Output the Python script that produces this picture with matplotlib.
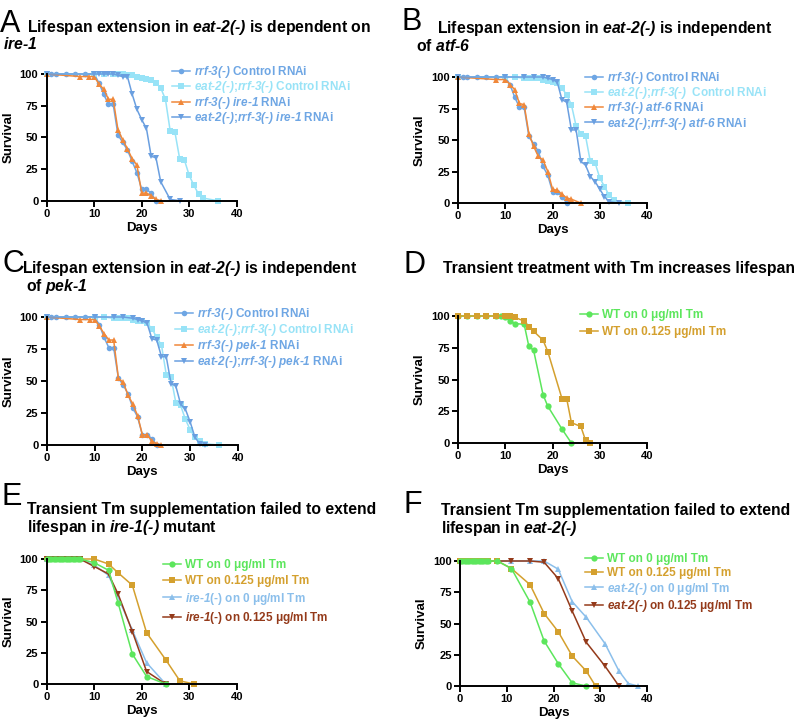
import matplotlib
matplotlib.use("Agg")
import matplotlib.pyplot as plt

plt.rcParams['font.family'] = ['Liberation Sans', 'DejaVu Sans']
plt.rcParams['font.weight'] = 'bold'
plt.rcParams['mathtext.fontset'] = 'custom'
# every glyph inside $...$ is bold italic (gene names)
plt.rcParams['mathtext.it'] = 'Liberation Sans:italic:bold'
plt.rcParams['mathtext.rm'] = 'Liberation Sans:italic:bold'
plt.rcParams['mathtext.bf'] = 'Liberation Sans:italic:bold'

# ---- data (days, % survival) ----
# A: ire-1
a_rrf3_ctrl_x = [0, 1, 2, 4, 6, 8, 10, 11, 12, 13, 14, 15, 16, 17, 18, 19, 20, 21, 22, 23]
a_rrf3_ctrl_y = [100, 100, 100, 100, 100, 100, 100, 93, 84, 76, 76, 52, 46, 40, 31, 22, 9, 9, 6, 0]
a_eat2_ctrl_x = [0, 10, 12, 14, 15, 16, 17, 18, 19, 20, 21, 22, 23, 24, 25, 26, 27, 28, 29, 30, 31, 32, 33, 36]
a_eat2_ctrl_y = [100, 100, 100, 100, 100, 100, 99, 99, 98, 97, 96, 95, 93, 89, 80, 55, 54, 33, 32, 20, 12, 5, 2, 0]
a_rrf3_ire1_x = [0, 7, 9, 10, 11, 12, 13, 14, 15, 16, 17, 18, 19, 20, 21, 22, 23, 24]
a_rrf3_ire1_y = [100, 98, 98, 98, 92, 88, 80, 80, 56, 48, 41, 33, 28, 6, 6, 4, 1, 0]
a_eat2_ire1_x = [0, 10, 11, 12, 13, 14, 15, 16, 17, 18, 19, 20, 21, 22, 23, 24, 26, 28]
a_eat2_ire1_y = [100, 100, 100, 100, 100, 100, 99, 98, 98, 84, 72, 64, 57, 35, 34, 15, 1, 0]

# B: atf-6
b_rrf3_ctrl_x = [0, 1, 2, 4, 6, 8, 10, 11, 12, 13, 14, 15, 16, 17, 18, 19, 20, 21, 22, 23]
b_rrf3_ctrl_y = [100, 100, 100, 100, 100, 100, 100, 94, 84, 76, 76, 53, 47, 41, 29, 22, 9, 9, 5, 0]
b_eat2_ctrl_x = [0, 10, 12, 14, 15, 16, 17, 18, 19, 20, 21, 22, 23, 24, 25, 26, 27, 28, 29, 30, 31, 32, 33, 36]
b_eat2_ctrl_y = [100, 100, 100, 99, 99, 99, 99, 98, 97, 96, 95, 91, 86, 78, 61, 55, 53, 33, 32, 20, 13, 6, 2, 0]
b_rrf3_atf6_x = [0, 8, 10, 11, 12, 13, 14, 15, 16, 17, 18, 19, 20, 21, 22, 23, 24, 26]
b_rrf3_atf6_y = [100, 98, 98, 94, 90, 79, 78, 55, 45, 37, 34, 25, 11, 10, 7, 4, 3, 0]
b_eat2_atf6_x = [0, 10, 14, 16, 18, 19, 20, 21, 22, 23, 24, 25, 26, 27, 28, 29, 30, 31, 32, 34]
b_eat2_atf6_y = [100, 100, 100, 100, 100, 99, 98, 96, 82, 80, 58, 58, 33, 30, 21, 17, 11, 5, 1, 0]

# C: pek-1
c_rrf3_ctrl_x = [0, 1, 2, 4, 6, 8, 10, 11, 12, 13, 14, 15, 16, 17, 18, 19, 20, 21, 22, 23]
c_rrf3_ctrl_y = [100, 100, 100, 100, 100, 100, 100, 94, 84, 76, 76, 52, 47, 40, 29, 22, 8, 8, 5, 0]
c_eat2_ctrl_x = [0, 10, 12, 14, 15, 16, 17, 18, 19, 20, 21, 22, 23, 24, 25, 26, 27, 28, 29, 30, 31, 32, 33, 36]
c_eat2_ctrl_y = [100, 100, 100, 99, 99, 99, 99, 98, 97, 97, 95, 91, 84, 78, 55, 53, 33, 31, 20, 12, 6, 3, 1, 0]
c_rrf3_pek1_x = [0, 7, 9, 10, 11, 12, 13, 14, 15, 16, 17, 18, 19, 20, 21, 22, 23, 24]
c_rrf3_pek1_y = [100, 98, 98, 98, 93, 87, 82, 82, 52, 49, 39, 32, 23, 8, 8, 3, 1, 0]
c_eat2_pek1_x = [0, 10, 14, 16, 18, 19, 20, 21, 22, 23, 24, 25, 26, 27, 28, 29, 30, 31, 32, 33]
c_eat2_pek1_y = [100, 100, 100, 100, 99, 98, 97, 95, 83, 82, 69, 69, 48, 46, 32, 28, 18, 6, 1, 0]

# D: transient Tm, WT
d_wt0_x = [0, 2, 4, 6, 8, 9, 10, 11, 12, 14, 15, 16, 18, 19, 22, 24]
d_wt0_y = [100, 100, 100, 100, 100, 100, 99, 96, 94, 93.5, 76, 73, 38, 29, 11, 0]
d_wt125_x = [0, 2, 4, 6, 8, 10, 11, 12, 14, 15, 16, 18, 19, 22, 23, 24, 26, 27, 28]
d_wt125_y = [100, 100, 100, 100, 100, 100, 100, 99, 96, 91, 88, 81, 72, 35, 35, 16, 13, 2, 0]

# E: ire-1(-)
e_wt0_x = [0, 0.5, 1, 1.5, 2, 2.5, 3, 3.5, 4, 4.5, 5, 5.5, 6, 6.5, 7, 10, 13, 15, 18, 21, 25]
e_wt0_y = [100, 100, 100, 100, 100, 100, 100, 100, 100, 100, 100, 100, 100, 100, 100, 97, 91, 65, 24, 6, 0]
e_wt125_x = [0, 1, 2, 3, 4, 5, 6, 7, 10, 13, 15, 18, 21, 25, 28, 31]
e_wt125_y = [100, 100, 100, 100, 100, 100, 100, 100, 100, 96, 89, 79, 41, 19.5, 2.5, 0]
e_ire0_x = [0, 1, 2, 3, 4, 5, 6, 7, 10, 13, 18, 21, 25]
e_ire0_y = [100, 100, 100, 100, 100, 100, 100, 100, 95, 87, 43, 17, 0]
e_ire125_x = [0, 1, 2, 3, 4, 5, 6, 7, 10, 13, 15, 18, 21, 25]
e_ire125_y = [100, 100, 100, 100, 100, 100, 100, 100, 94, 88, 72, 42, 10, 0]

# F: eat-2(-)
f_wt0_x = [0, 0.5, 1, 1.5, 2, 2.5, 3, 3.5, 4, 4.5, 5, 5.5, 6, 8, 11, 15, 18, 21, 24, 27]
f_wt0_y = [100, 100, 100, 100, 100, 100, 100, 100, 100, 100, 100, 100, 100, 100, 94, 67, 36, 18, 2.5, 0]
f_wt125_x = [0, 1, 2, 3, 4, 5, 6, 8, 11, 15, 18, 21, 24, 27, 29]
f_wt125_y = [100, 100, 100, 100, 100, 100, 100, 100, 94, 81, 58, 43.5, 24, 12, 0]
f_eat0_x = [0, 2, 4, 6, 8, 11, 15, 18, 21, 24, 27, 31, 34, 36, 38]
f_eat0_y = [100, 100, 100, 100, 100, 100, 100, 100, 93.5, 67.5, 55, 34, 12, 2, 0]
f_eat125_x = [0, 2, 4, 6, 8, 11, 15, 18, 21, 24, 27, 31, 34]
f_eat125_y = [100, 100, 100, 100, 100, 100, 100, 99, 86, 60, 35, 16, 0]

BLUE = '#6EA6E4'
CYAN = '#98E3F7'
ORANGE = '#F0883A'
BLUE2 = '#6A9FE0'
GREEN = '#5CE65C'
GOLD = '#D4A02E'
LBLUE = '#8BBFEB'
BROWN = '#943A1A'

W, H = 800, 725
fig = plt.figure(figsize=(W / 100, H / 100), dpi=100)


def it(s):
    # bold italic piece via mathtext; ';' kept outside math to avoid extra space
    parts = []
    for p in s.split(';'):
        p = p.replace('-', '\u2010').replace(' ', r'\ ')
        parts.append(r'$\mathit{' + p + '}$')
    return ';'.join(parts)


def make_axes(l, t, r, b):
    ax = fig.add_axes([l / W, 1 - b / H, (r - l) / W, (b - t) / H])
    ax.set_xlim(0, 40)
    ax.set_ylim(0, 100)
    ax.set_xticks([0, 10, 20, 30, 40])
    ax.set_yticks([0, 25, 50, 75, 100])
    for s in ['top', 'right']:
        ax.spines[s].set_visible(False)
    for s in ['left', 'bottom']:
        ax.spines[s].set_linewidth(1.4)
    ax.tick_params(width=1.4, length=4, labelsize=8, pad=2)
    for lab in ax.get_xticklabels() + ax.get_yticklabels():
        lab.set_fontweight('bold')
    ax.set_xlabel('Days', fontsize=9.5, fontweight='bold', labelpad=2)
    ax.set_ylabel('Survival', fontsize=9.5, fontweight='bold', labelpad=4)
    return ax


def series(ax, x, y, color, marker, label, ms=4):
    ax.plot(x, y, color=color, marker=marker, ms=ms, lw=1.1,
            markeredgewidth=0, label=label, clip_on=False)


def legend(ax, x, y, text_colors, spacing, order=None):
    h, l = ax.get_legend_handles_labels()
    if order is not None:
        h = [h[i] for i in order]
        l = [l[i] for i in order]
    leg = ax.legend(h, l, loc='upper left', bbox_to_anchor=(x / W, 1 - y / H),
                    bbox_transform=fig.transFigure, frameon=False,
                    borderpad=0, borderaxespad=0, handlelength=1.5,
                    handletextpad=0.35, labelspacing=spacing,
                    prop={'size': 8.5, 'weight': 'bold'})
    for t, c in zip(leg.get_texts(), text_colors):
        t.set_color(c)


def letter(x, y, s):
    fig.text(x / W, 1 - y / H, s, fontsize=22, fontweight='normal', va='baseline')


def title(x, y, s):
    fig.text(x / W, 1 - y / H, s, fontsize=11.3, fontweight='bold', va='baseline')


# A
ax = make_axes(46.7, 74, 236.7, 200.7)
series(ax, a_rrf3_ctrl_x, a_rrf3_ctrl_y, BLUE, 'o', it('rrf-3(-)') + ' Control RNAi')
series(ax, a_eat2_ctrl_x, a_eat2_ctrl_y, CYAN, 's', it('eat-2(-);rrf-3(-)') + ' Control RNAi')
series(ax, a_rrf3_ire1_x, a_rrf3_ire1_y, ORANGE, '^', it('rrf-3(-) ire-1') + ' RNAi')
series(ax, a_eat2_ire1_x, a_eat2_ire1_y, BLUE2, 'v', it('eat-2(-);rrf-3(-) ire-1') + ' RNAi')
legend(ax, 172, 64, [BLUE, CYAN, BLUE, BLUE], -0.05)
letter(0, 32, 'A')
title(27, 32, 'Lifespan extension in ' + it('eat-2(-)') + ' is dependent on')
title(3, 49, it('ire-1'))

# B
ax = make_axes(458, 77, 647, 203)
series(ax, b_rrf3_ctrl_x, b_rrf3_ctrl_y, BLUE, 'o', it('rrf-3(-)') + ' Control RNAi')
series(ax, b_eat2_ctrl_x, b_eat2_ctrl_y, CYAN, 's', it('eat-2(-);rrf-3(-)') + '  Control RNAi')
series(ax, b_rrf3_atf6_x, b_rrf3_atf6_y, ORANGE, '^', it('rrf-3(-) atf-6') + ' RNAi')
series(ax, b_eat2_atf6_x, b_eat2_atf6_y, BLUE2, 'v', it('eat-2(-);rrf-3(-) atf-6') + ' RNAi')
legend(ax, 585, 70, [BLUE, CYAN, BLUE, BLUE], -0.07)
letter(402, 30, 'B')
title(437, 33, 'Lifespan extension in ' + it('eat-2(-)') + ' is independent')
title(416, 51, 'of ' + it('atf-6'))

# C
ax = make_axes(46.7, 317, 238, 445)
series(ax, c_rrf3_ctrl_x, c_rrf3_ctrl_y, BLUE, 'o', it('rrf-3(-)') + ' Control RNAi')
series(ax, c_eat2_ctrl_x, c_eat2_ctrl_y, CYAN, 's', it('eat-2(-);rrf-3(-)') + ' Control RNAi')
series(ax, c_rrf3_pek1_x, c_rrf3_pek1_y, ORANGE, '^', it('rrf-3(-) pek-1') + ' RNAi')
series(ax, c_eat2_pek1_x, c_eat2_pek1_y, BLUE2, 'v', it('eat-2(-);rrf-3(-) pek-1') + ' RNAi')
legend(ax, 175, 306, [BLUE, CYAN, BLUE, BLUE], 0.0)
letter(2, 272, 'C')
title(22, 273, 'Lifespan extension in ' + it('eat-2(-)') + ' is independent')
title(26, 291, 'of ' + it('pek-1'))

# D
ax = make_axes(458, 316, 647, 443)
series(ax, d_wt0_x, d_wt0_y, GREEN, 'o', 'WT on 0 \u03bcg/ml Tm', ms=4.5)
series(ax, d_wt125_x, d_wt125_y, GOLD, 's', 'WT on 0.125 \u03bcg/ml Tm', ms=4.5)
legend(ax, 580, 309, [GREEN, GOLD], 0.45)
letter(403, 273, 'D')
title(443, 273, 'Transient treatment with Tm increases lifespan')

# E
ax = make_axes(46.7, 559, 237, 684)
series(ax, e_wt125_x, e_wt125_y, GOLD, 's', 'WT on 0.125 \u03bcg/ml Tm', ms=4.5)
series(ax, e_ire0_x, e_ire0_y, LBLUE, '^', it('ire-1') + '(-) on 0 \u03bcg/ml Tm', ms=4.5)
series(ax, e_ire125_x, e_ire125_y, BROWN, 'v', it('ire-1') + '(-) on 0.125 \u03bcg/ml Tm', ms=4.5)
series(ax, e_wt0_x, e_wt0_y, GREEN, 'o', 'WT on 0 \u03bcg/ml Tm', ms=4.5)
legend(ax, 163, 559, [GREEN, GOLD, LBLUE, BROWN], 0.32, order=[3, 0, 1, 2])
letter(2, 505, 'E')
title(27, 514, 'Transient Tm supplementation failed to extend')
title(27, 532, 'lifespan in ' + it('ire-1(-)') + ' mutant')

# F
ax = make_axes(460, 561, 647, 686)
series(ax, f_eat0_x, f_eat0_y, LBLUE, '^', it('eat-2(-)') + ' on 0 \u03bcg/ml Tm', ms=4.5)
series(ax, f_eat125_x, f_eat125_y, BROWN, 'v', it('eat-2(-)') + ' on 0.125 \u03bcg/ml Tm', ms=4.5)
series(ax, f_wt125_x, f_wt125_y, GOLD, 's', 'WT on 0.125 \u03bcg/ml Tm', ms=4.5)
series(ax, f_wt0_x, f_wt0_y, GREEN, 'o', 'WT on 0 \u03bcg/ml Tm', ms=4.5)
legend(ax, 585, 553, [GREEN, GOLD, LBLUE, BROWN], 0.15, order=[3, 2, 0, 1])
letter(403, 513, 'F')
title(441, 515, 'Transient Tm supplementation failed to extend')
title(441, 533, 'lifespan in ' + it('eat-2(-)'))

fig.savefig('out.png', dpi=100)
